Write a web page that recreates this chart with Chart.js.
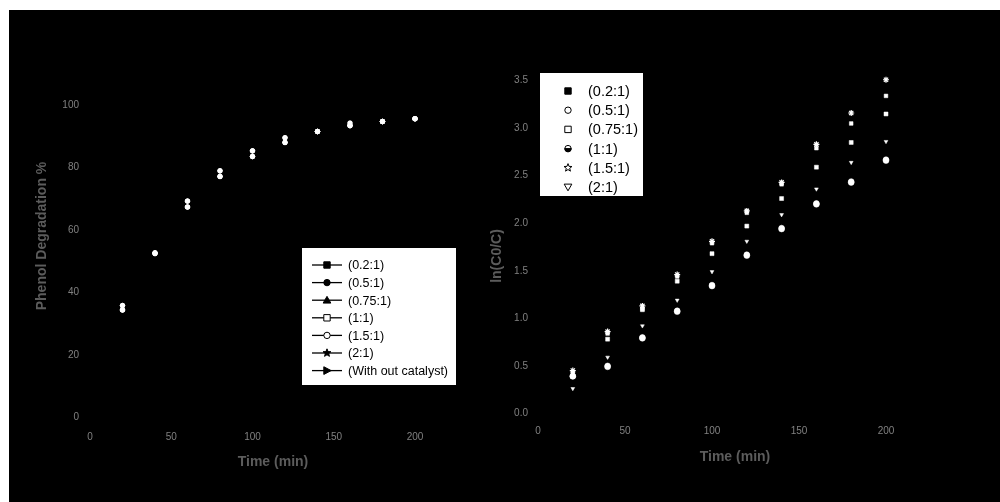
<!DOCTYPE html>
<html>
<head>
<meta charset="utf-8">
<script src="https://cdn.jsdelivr.net/npm/chart.js@4.4.1/dist/chart.umd.min.js"></script>
<style>
  html, body { margin: 0; padding: 0; background: #fff; width: 1000px; height: 502px; overflow: hidden; }
  #panel { position: absolute; left: 9px; top: 10px; width: 991px; height: 492px; background: #000; }
  .box { position: absolute; top: 0; height: 502px; }
  #leftBox { left: 0; width: 500px; }
  #rightBox { left: 460px; width: 540px; }
</style>
</head>
<body>
<div id="panel"></div>
<div class="box" id="leftBox"><canvas id="degradation" width="500" height="502"></canvas></div>
<div class="box" id="rightBox"><canvas id="kinetics" width="540" height="502"></canvas></div>
<script>
// Sampling times (min)
const times = [20, 40, 60, 80, 100, 120, 140, 160, 180, 200];

// Catalyst ratio labels
const degLabels = ['(0.2:1)', '(0.5:1)', '(0.75:1)', '(1:1)', '(1.5:1)', '(2:1)', '(With out catalyst)'];
const kinLabels = ['(0.2:1)', '(0.5:1)', '(0.75:1)', '(1:1)', '(1.5:1)', '(2:1)'];

// Phenol degradation (%)
const deg_02  = [35.8, 52.7, 69.3, 79.0, 85.4, 89.6, 91.6, 94.3, 94.8, 95.7];
const deg_05  = [35.8, 52.7, 69.3, 79.0, 85.4, 89.6, 91.6, 94.3, 94.8, 95.7];
const deg_075 = [35.8, 52.7, 69.3, 79.0, 85.4, 89.6, 91.6, 93.5, 94.8, 95.7];
const deg_1   = [34.4, 52.5, 67.4, 77.2, 83.6, 88.1, 91.6, 93.5, 94.8, 95.7];
const deg_15  = [34.4, 52.5, 67.4, 77.2, 83.6, 88.1, 91.6, 93.5, 94.8, 95.7];
const deg_2   = [34.4, 52.5, 67.4, 77.2, 83.6, 88.1, 91.6, 93.5, 94.8, 95.7];
const deg_none = [34.4, 52.5, 67.4, 77.2, 83.6, 88.1, 91.6, 93.5, 94.8, 95.7];

// ln(C0/C) kinetics
const kin_02  = [0.43, 0.84, 1.10, 1.44, 1.79, 2.11, 2.41, 2.79, 3.05, 3.34];
const kin_05  = [0.39, 0.50, 0.80, 1.08, 1.35, 1.67, 1.95, 2.21, 2.44, 2.67];
const kin_075 = [0.39, 0.78, 1.09, 1.39, 1.68, 1.97, 2.26, 2.59, 2.85, 3.15];
const kin_1   = [0.39, 0.49, 0.79, 1.07, 1.34, 1.66, 1.94, 2.20, 2.43, 2.66];
const kin_15  = [0.45, 0.86, 1.13, 1.46, 1.81, 2.13, 2.43, 2.83, 3.16, 3.51];
const kin_2   = [0.26, 0.59, 0.92, 1.19, 1.49, 1.81, 2.09, 2.36, 2.64, 2.86];

// Axis tick values
const degXTicks = [0, 50, 100, 150, 200];
const degYTicks = [0, 20, 40, 60, 80, 100];
const kinXTicks = [0, 50, 100, 150, 200];
const kinYTicks = [0, 0.5, 1.0, 1.5, 2.0, 2.5, 3.0, 3.5];

const FONT = '"Liberation Sans", Arial, sans-serif';
const TICK_COLOR = '#808080';
const TITLE_COLOR = '#5c5c5c';

const pts = (ys) => times.map((t, i) => ({ x: t, y: ys[i] }));

// Marker drawing for the boxed legends
function drawMarker(ctx, kind, x, y, r, filled) {
  ctx.save();
  ctx.lineWidth = 1;
  ctx.strokeStyle = '#000';
  ctx.fillStyle = filled ? '#000' : '#fff';
  ctx.beginPath();
  if (kind === 'rect') {
    ctx.rect(x - r, y - r, 2 * r, 2 * r);
  } else if (kind === 'circle') {
    ctx.arc(x, y, r, 0, Math.PI * 2);
  } else if (kind === 'triUp') {
    ctx.moveTo(x, y - r * 1.2); ctx.lineTo(x + r * 1.2, y + r * 0.9); ctx.lineTo(x - r * 1.2, y + r * 0.9); ctx.closePath();
  } else if (kind === 'triDown') {
    ctx.moveTo(x, y + r * 1.2); ctx.lineTo(x + r * 1.2, y - r * 0.9); ctx.lineTo(x - r * 1.2, y - r * 0.9); ctx.closePath();
  } else if (kind === 'triRight') {
    ctx.moveTo(x + r * 1.3, y); ctx.lineTo(x - r, y - r * 1.2); ctx.lineTo(x - r, y + r * 1.2); ctx.closePath();
  } else if (kind === 'star') {
    for (let k = 0; k < 10; k++) {
      const a = -Math.PI / 2 + k * Math.PI / 5;
      const rr = k % 2 === 0 ? r * 1.3 : r * 0.55;
      const px = x + rr * Math.cos(a), py = y + rr * Math.sin(a);
      k === 0 ? ctx.moveTo(px, py) : ctx.lineTo(px, py);
    }
    ctx.closePath();
  } else if (kind === 'half') {
    ctx.arc(x, y, r, 0, Math.PI * 2);
    ctx.fillStyle = '#fff';
    ctx.fill(); ctx.stroke();
    ctx.beginPath();
    ctx.arc(x, y, r, 0, Math.PI);
    ctx.closePath();
    ctx.fillStyle = '#000';
  }
  ctx.fill();
  ctx.stroke();
  ctx.restore();
}

// Boxed legend placed inside the plot region
const boxLegend = {
  id: 'boxLegend',
  afterDraw(chart, args, opts) {
    const { ctx } = chart;
    ctx.save();
    ctx.fillStyle = '#fff';
    ctx.strokeStyle = '#000';
    ctx.lineWidth = 1;
    ctx.fillRect(opts.x, opts.y, opts.w, opts.h);
    ctx.strokeRect(opts.x + 0.5, opts.y + 0.5, opts.w - 1, opts.h - 1);
    ctx.font = opts.fontSize + 'px ' + FONT;
    ctx.textBaseline = 'middle';
    ctx.textAlign = 'left';
    opts.items.forEach((it, i) => {
      const y = opts.firstRow + i * opts.rowGap;
      if (opts.lineLen) {
        ctx.strokeStyle = '#000';
        ctx.lineWidth = 1.3;
        ctx.beginPath();
        ctx.moveTo(opts.markerX - opts.lineLen / 2, y);
        ctx.lineTo(opts.markerX + opts.lineLen / 2, y);
        ctx.stroke();
      }
      drawMarker(ctx, it.kind, opts.markerX, y, opts.markerR, it.filled);
      ctx.fillStyle = '#000';
      ctx.fillText(chart.data.datasets[i].label, opts.textX, y + 1);
    });
    ctx.restore();
  }
};

// Axis captions
const captions = {
  id: 'captions',
  afterDraw(chart, args, opts) {
    const { ctx } = chart;
    opts.items.forEach(c => {
      ctx.save();
      ctx.font = 'bold 14px ' + FONT;
      ctx.fillStyle = TITLE_COLOR;
      ctx.textAlign = 'center';
      ctx.textBaseline = 'middle';
      ctx.translate(c.x, c.y);
      if (c.rotate) ctx.rotate(-Math.PI / 2);
      ctx.fillText(c.text, 0, 0);
      ctx.restore();
    });
  }
};

function axis(opts) {
  return {
    type: 'linear',
    min: opts.min, max: opts.max,
    afterFit: opts.fit,
    afterBuildTicks: (s) => { s.ticks = opts.ticks.map(v => ({ value: v })); },
    grid: { display: false, drawTicks: false },
    border: { display: false },
    ticks: {
      padding: opts.pad,
      color: TICK_COLOR,
      font: { family: FONT, size: 10 },
      callback: opts.fmt || ((v) => String(v))
    }
  };
}

const whitePoint = (style, r, extra) => Object.assign({
  showLine: false,
  pointStyle: style,
  pointRadius: r,
  pointBackgroundColor: '#fff',
  pointBorderColor: '#fff',
  pointBorderWidth: 0.5,
  clip: false
}, extra || {});

// Left panel: phenol degradation vs time
const degSeries = [deg_02, deg_05, deg_075, deg_1, deg_15, deg_2, deg_none];
const degStyles = [
  { kind: 'rect', filled: true }, { kind: 'circle', filled: true }, { kind: 'triUp', filled: true },
  { kind: 'rect', filled: false }, { kind: 'circle', filled: false }, { kind: 'star', filled: true },
  { kind: 'triRight', filled: true }
];
new Chart(document.getElementById('degradation'), {
  type: 'scatter',
  data: {
    datasets: degSeries.map((s, i) => Object.assign({ label: degLabels[i], data: pts(s) }, whitePoint('circle', 2.3)))
  },
  options: {
    responsive: false,
    animation: false,
    events: [],
    layout: { padding: { left: 0, top: 55.4, right: 20, bottom: 0 } },
    scales: {
      x: axis({ min: 0, max: 240, ticks: degXTicks, pad: 13.7, fit: (s) => { s.height = 84.7; } }),
      y: axis({ min: 0, max: 116, ticks: degYTicks, pad: 11, fit: (s) => { s.width = 90; } })
    },
    plugins: {
      legend: { display: false },
      tooltip: { enabled: false },
      boxLegend: {
        x: 301, y: 247, w: 156, h: 139,
        markerX: 327, markerR: 3.2, lineLen: 30, textX: 348,
        firstRow: 265, rowGap: 17.6, fontSize: 12.5,
        items: degStyles
      },
      captions: {
        items: [
          { text: 'Time (min)', x: 273, y: 462 },
          { text: 'Phenol Degradation %', x: 42, y: 236, rotate: true }
        ]
      }
    }
  },
  plugins: [boxLegend, captions]
});

// Right panel: pseudo-first-order kinetics
const kinSeries = [kin_02, kin_05, kin_075, kin_1, kin_15, kin_2];
const kinPointStyles = [
  whitePoint('rect', 2.6), whitePoint('circle', 2.8), whitePoint('rect', 2.8),
  whitePoint('circle', 3), whitePoint('star', 3, { pointBorderWidth: 1.2 }),
  whitePoint('triangle', 2.2, { pointRotation: 180 })
];
const kinStyles = [
  { kind: 'rect', filled: true }, { kind: 'circle', filled: false }, { kind: 'rect', filled: false },
  { kind: 'half', filled: true }, { kind: 'star', filled: false }, { kind: 'triDown', filled: false }
];
new Chart(document.getElementById('kinetics'), {
  type: 'scatter',
  data: {
    datasets: kinSeries.map((s, i) => Object.assign({ label: kinLabels[i], data: pts(s) }, kinPointStyles[i]))
  },
  options: {
    responsive: false,
    animation: false,
    events: [],
    layout: { padding: { left: 0, top: 61.7, right: 27, bottom: 0 } },
    scales: {
      x: axis({ min: 0, max: 250, ticks: kinXTicks, pad: 12.4, fit: (s) => { s.height = 88.7; } }),
      y: axis({ min: 0, max: 3.7, ticks: kinYTicks, pad: 10, fit: (s) => { s.width = 78; },
                fmt: (v) => v.toFixed(1) })
    },
    plugins: {
      legend: { display: false },
      tooltip: { enabled: false },
      boxLegend: {
        x: 79, y: 72, w: 105, h: 125,
        markerX: 108, markerR: 3.2, lineLen: 0, textX: 128,
        firstRow: 91, rowGap: 19.2, fontSize: 14.5,
        items: kinStyles
      },
      captions: {
        items: [
          { text: 'Time (min)', x: 275, y: 457 },
          { text: 'ln(C0/C)', x: 37, y: 256, rotate: true }
        ]
      }
    }
  },
  plugins: [boxLegend, captions]
});
</script>
</body>
</html>
